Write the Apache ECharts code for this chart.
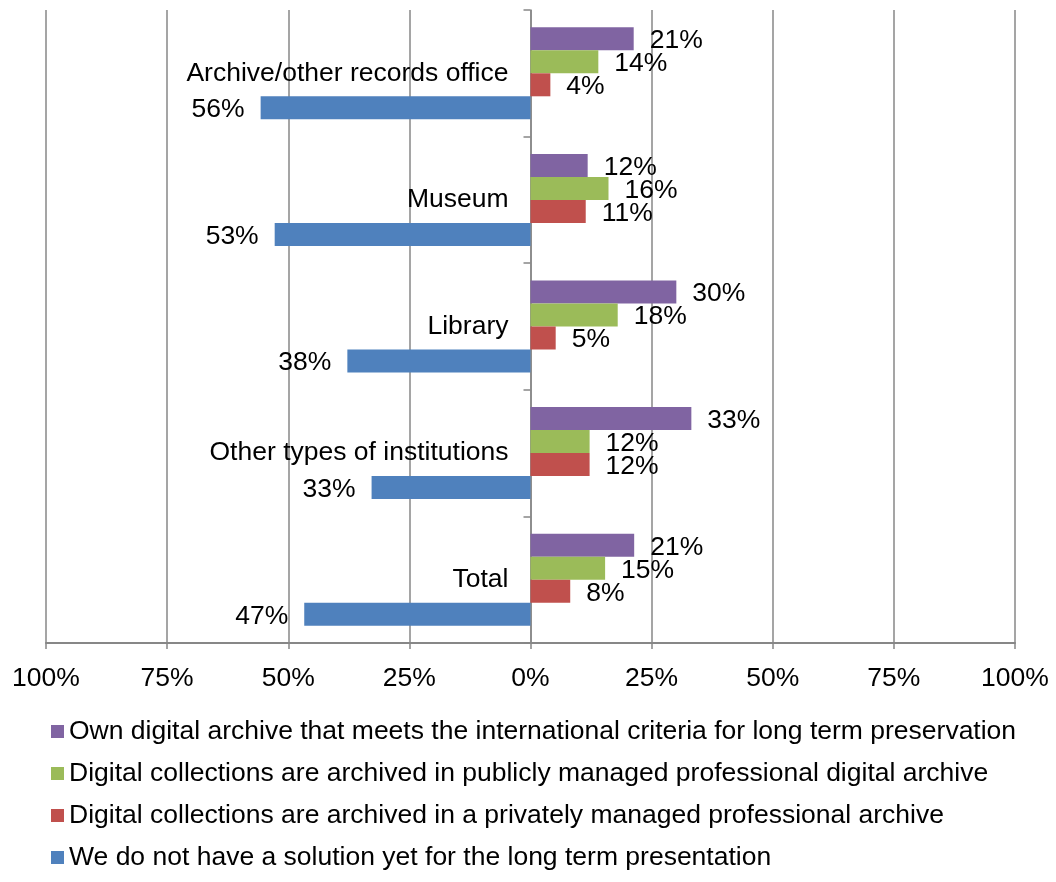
<!DOCTYPE html>
<html>
<head>
<meta charset="utf-8">
<script src="https://cdn.jsdelivr.net/npm/echarts@6/dist/echarts.min.js"></script>
<style>
  html, body { margin: 0; padding: 0; background: #fff; }
  #main { width: 1056px; height: 882px; }
</style>
</head>
<body>
<div id="main"></div>
<script>
// categories top to bottom
var categories = ['Archive/other records office', 'Museum', 'Library', 'Other types of institutions', 'Total'];

var seriesNames = [
  'Own digital archive that meets the international criteria for long term preservation',
  'Digital collections are archived in publicly managed professional digital archive',
  'Digital collections are archived in a privately managed professional archive',
  'We do not have a solution yet for the long term presentation'
];

var ownArchive = [21.3, 11.8, 30.1, 33.2, 21.4];
var publicArchive = [14.0, 16.1, 18.0, 12.2, 15.4];
var privateArchive = [4.1, 11.4, 5.2, 12.2, 8.2];
var noSolution = [-55.7, -52.8, -37.8, -32.8, -46.7];

var xTicks = [-100, -75, -50, -25, 0, 25, 50, 75, 100];

var colors = ['#8064A2', '#9BBB59', '#C0504D', '#4F81BD'];
var font = 'Liberation Sans, Arial, sans-serif';
var fs = 26.5;

var gridLeft = 46, gridRight = 41;
var plotW = 1056 - gridLeft - gridRight;

var chart = echarts.init(document.getElementById('main'));

function makeSeries(name, data, color, neg) {
  return {
    name: name,
    type: 'bar',
    data: data,
    barWidth: 23,
    barGap: '0%',
    itemStyle: { color: color },
    label: {
      show: true,
      position: neg ? 'left' : 'right',
      distance: 16,
      offset: [0, 2],
      color: '#000',
      fontFamily: font,
      fontSize: fs,
      formatter: function (p) { return Math.round(Math.abs(p.value)) + '%'; }
    }
  };
}

var option = {
  animation: false,
  backgroundColor: '#fff',
  color: colors,
  grid: { left: gridLeft, right: gridRight, top: 10, bottom: 239, outerBoundsMode: 'none', containLabel: false },
  legend: {
    orient: 'vertical',
    left: 46,
    top: 713,
    height: 170,
    icon: 'rect',
    itemWidth: 13,
    itemHeight: 13,
    itemGap: 15,
    selectedMode: false,
    data: seriesNames,
    textStyle: { fontFamily: font, fontSize: fs, color: '#000' }
  },
  xAxis: {
    type: 'value',
    min: xTicks[0],
    max: xTicks[xTicks.length - 1],
    interval: 25,
    axisLine: { show: true, lineStyle: { color: '#878787', width: 2 } },
    axisTick: { show: true, length: 6, lineStyle: { color: '#878787', width: 1.5 } },
    splitLine: { show: true, lineStyle: { color: '#878787', width: 1.5 } },
    axisLabel: {
      margin: 22,
      color: '#000',
      fontFamily: font,
      fontSize: fs,
      formatter: function (v) { return Math.abs(v) + '%'; }
    }
  },
  yAxis: {
    type: 'category',
    inverse: true,
    data: categories,
    offset: -plotW / 2,
    axisLine: { show: true, onZero: false, lineStyle: { color: '#878787', width: 1.5 } },
    axisTick: { show: true, length: 7, lineStyle: { color: '#878787', width: 1.5 } },
    splitLine: { show: false },
    axisLabel: {
      margin: 22,
      color: '#000',
      fontFamily: font,
      fontSize: fs
    }
  },
  series: [
    makeSeries(seriesNames[0], ownArchive, colors[0], false),
    makeSeries(seriesNames[1], publicArchive, colors[1], false),
    makeSeries(seriesNames[2], privateArchive, colors[2], false),
    makeSeries(seriesNames[3], noSolution, colors[3], true)
  ]
};

chart.setOption(option);
</script>
</body>
</html>
